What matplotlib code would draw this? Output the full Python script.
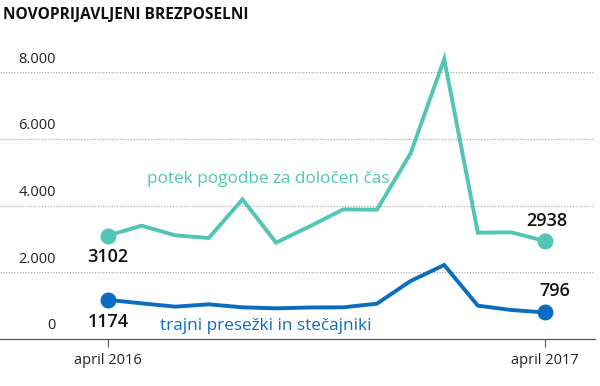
import matplotlib
matplotlib.use('Agg')
import matplotlib.pyplot as plt

# Data
months = list(range(14))
tick_pos = [0, 13]
tick_labels = ['april 2016', 'april 2017']
fixed_term = [3102, 3400, 3110, 3030, 4190, 2890, 3380, 3890, 3880, 5570, 8400, 3190, 3200, 2938]
redundant = [1174, 1070, 970, 1040, 950, 920, 945, 950, 1060, 1740, 2220, 1000, 870, 796]
y_ticks = [0, 2000, 4000, 6000, 8000]
y_labels = ['0', '2.000', '4.000', '6.000', '8.000']

TEAL = '#52c5b5'
BLUE = '#0b6dc1'

plt.rcParams['font.family'] = ['Open Sans', 'DejaVu Sans']

fig = plt.figure(figsize=(6, 3.86), dpi=100)
ax = fig.add_axes([0.0, 0.1218, 0.992, 0.777])

ax.plot(months, fixed_term, color=TEAL, lw=2.8, solid_joinstyle='miter')
ax.plot(months, redundant, color=BLUE, lw=2.8, solid_joinstyle='miter')
ax.scatter([months[0], months[-1]], [fixed_term[0], fixed_term[-1]], s=110, color=TEAL, zorder=3)
ax.scatter([months[0], months[-1]], [redundant[0], redundant[-1]], s=110, color=BLUE, zorder=3)

ax.set_xlim(-3.21, 14.49)
ax.set_ylim(0, 9000)

# dotted gridlines, labels sit above them
for v in y_ticks[1:]:
    ax.axhline(v, color='#a0a0a0', lw=0.8, ls=(0, (1, 1.5)), zorder=0)
for v, lab in zip(y_ticks, y_labels):
    ax.text(-1.55, v + 170, lab, ha='right', va='bottom', fontsize=10.5, color='#222222')

ax.set_yticks([])
ax.set_xticks(tick_pos)
ax.set_xticklabels(tick_labels, fontsize=10.5, color='#222222')
ax.tick_params(axis='x', length=6, width=0.8, color='#555555', pad=4)
for s in ['top', 'right', 'left']:
    ax.spines[s].set_visible(False)
ax.spines['bottom'].set_color('#555555')
ax.spines['bottom'].set_linewidth(0.9)

# end value labels
lab_kw = dict(fontsize=13, fontweight='semibold', color='#111111')
ax.text(months[0], fixed_term[0] - 380, str(fixed_term[0]), ha='center', va='top', **lab_kw)
ax.text(months[0], redundant[0] - 380, str(redundant[0]), ha='center', va='top', **lab_kw)
ax.text(months[-1] + 0.05, fixed_term[-1] + 330, str(fixed_term[-1]), ha='center', va='bottom', **lab_kw)
ax.text(months[-1] + 0.3, redundant[-1] + 380, str(redundant[-1]), ha='center', va='bottom', **lab_kw)

# series labels
ax.text(1.17, 4800, 'potek pogodbe za določen čas', ha='left', va='center', fontsize=12.3, color=TEAL)
ax.text(1.55, 380, 'trajni presežki in stečajniki', ha='left', va='center', fontsize=12.3, color=BLUE)

fig.text(0.005, 0.962, 'NOVOPRIJAVLJENI BREZPOSELNI', ha='left', va='center', fontsize=11.2, fontweight='bold', color='#111111')

fig.savefig('out.png', dpi=100)
